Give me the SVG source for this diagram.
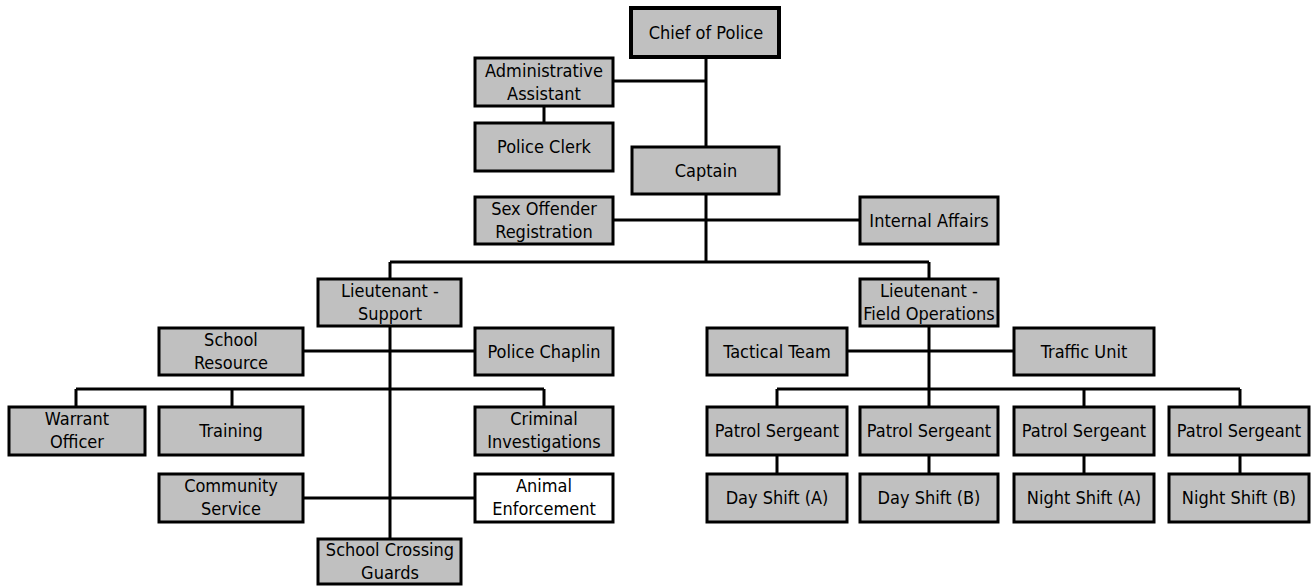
<svg xmlns="http://www.w3.org/2000/svg" width="1314" height="586" viewBox="0 0 1314 586">
<style>
.b{fill:#c0c0c0;stroke:#000;stroke-width:3}
.w{fill:#fff;stroke:#000;stroke-width:3}
.t{font-family:"DejaVu Sans Condensed","Liberation Sans",sans-serif;font-stretch:condensed;font-size:18px;fill:#000;text-anchor:middle}
#connectors path{fill:none;stroke:#000;stroke-width:3}
</style>
<rect width="1314" height="586" fill="#fff"/>
<g id="connectors">
<path d="M706 58V147M613 81H706M544 106V123M706 194V262M613 220H860"/>
<path d="M390 262H929M390 262V280M929 262V280"/>
<path d="M390 326V539M303 351H475M76 389H544M76 389V407M232 389V407M544 389V407M303 498H475"/>
<path d="M929 326V407M847 351H1014M777 389H1240M777 389V407M1084 389V407M1240 389V407"/>
<path d="M777 454V475M929 454V475M1084 454V475M1240 454V475"/>
</g>
<g id="chief"><rect x="631" y="8" width="148" height="49" class="b" style="stroke-width:4"/><text class="t" x="706" y="39">Chief of Police</text></g>
<g id="admin"><rect x="475" y="58" width="138" height="48" class="b"/><text class="t" x="544" y="77">Administrative</text><text class="t" x="544" y="100">Assistant</text></g>
<g id="clerk"><rect x="475" y="123" width="138" height="48" class="b"/><text class="t" x="544" y="153">Police Clerk</text></g>
<g id="captain"><rect x="632" y="147" width="147" height="47" class="b"/><text class="t" x="706" y="177">Captain</text></g>
<g id="sexoffender"><rect x="475" y="197" width="138" height="47" class="b"/><text class="t" x="544" y="215">Sex Offender</text><text class="t" x="544" y="238">Registration</text></g>
<g id="internal"><rect x="860" y="197" width="138" height="47" class="b"/><text class="t" x="929" y="227">Internal Affairs</text></g>
<g id="ltsupport"><rect x="318" y="279" width="143" height="47" class="b"/><text class="t" x="390" y="297">Lieutenant -</text><text class="t" x="390" y="320">Support</text></g>
<g id="ltfield"><rect x="860" y="279" width="138" height="47" class="b"/><text class="t" x="929" y="297">Lieutenant -</text><text class="t" x="929" y="320">Field Operations</text></g>
<g id="schoolres"><rect x="159" y="328" width="144" height="47" class="b"/><text class="t" x="231" y="346">School</text><text class="t" x="231" y="369">Resource</text></g>
<g id="chaplin"><rect x="475" y="328" width="138" height="47" class="b"/><text class="t" x="544" y="358">Police Chaplin</text></g>
<g id="tactical"><rect x="707" y="328" width="140" height="47" class="b"/><text class="t" x="777" y="358">Tactical Team</text></g>
<g id="traffic"><rect x="1014" y="328" width="140" height="47" class="b"/><text class="t" x="1084" y="358">Traffic Unit</text></g>
<g id="warrant"><rect x="9" y="407" width="136" height="48" class="b"/><text class="t" x="77" y="425">Warrant</text><text class="t" x="77" y="448">Officer</text></g>
<g id="training"><rect x="159" y="407" width="144" height="48" class="b"/><text class="t" x="231" y="437">Training</text></g>
<g id="criminal"><rect x="475" y="407" width="138" height="48" class="b"/><text class="t" x="544" y="425">Criminal</text><text class="t" x="544" y="448">Investigations</text></g>
<g id="ps1"><rect x="707" y="407" width="140" height="48" class="b"/><text class="t" x="777" y="437">Patrol Sergeant</text></g>
<g id="ps2"><rect x="860" y="407" width="138" height="48" class="b"/><text class="t" x="929" y="437">Patrol Sergeant</text></g>
<g id="ps3"><rect x="1014" y="407" width="140" height="48" class="b"/><text class="t" x="1084" y="437">Patrol Sergeant</text></g>
<g id="ps4"><rect x="1169" y="407" width="140" height="48" class="b"/><text class="t" x="1239" y="437">Patrol Sergeant</text></g>
<g id="community"><rect x="159" y="474" width="144" height="48" class="b"/><text class="t" x="231" y="492">Community</text><text class="t" x="231" y="515">Service</text></g>
<g id="animal"><rect x="475" y="474" width="138" height="48" class="w"/><text class="t" x="544" y="492">Animal</text><text class="t" x="544" y="515">Enforcement</text></g>
<g id="dayA"><rect x="707" y="474" width="140" height="48" class="b"/><text class="t" x="777" y="504">Day Shift (A)</text></g>
<g id="dayB"><rect x="860" y="474" width="138" height="48" class="b"/><text class="t" x="929" y="504">Day Shift (B)</text></g>
<g id="nightA"><rect x="1014" y="474" width="140" height="48" class="b"/><text class="t" x="1084" y="504">Night Shift (A)</text></g>
<g id="nightB"><rect x="1169" y="474" width="140" height="48" class="b"/><text class="t" x="1239" y="504">Night Shift (B)</text></g>
<g id="crossing"><rect x="318" y="539" width="143" height="45" class="b"/><text class="t" x="390" y="556">School Crossing</text><text class="t" x="390" y="579">Guards</text></g>
</svg>
